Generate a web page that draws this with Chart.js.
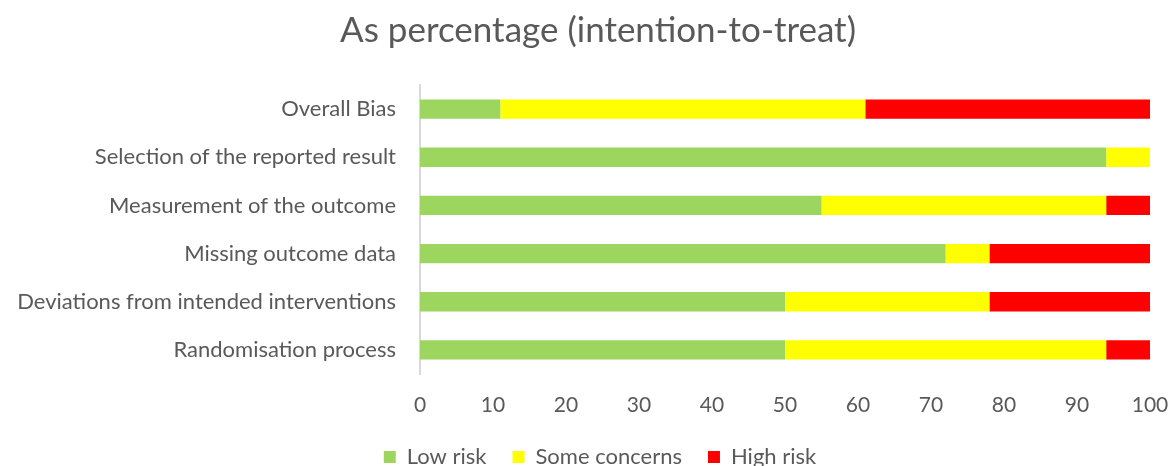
<!DOCTYPE html>
<html>
<head>
<meta charset="utf-8">
<script src="https://cdn.jsdelivr.net/npm/chart.js@4/dist/chart.umd.min.js"></script>
<style>
  html, body { margin: 0; padding: 0; background: #ffffff; overflow: hidden; width: 1170px; height: 466px; }
  #wrap { width: 1170px; height: 466px; overflow: hidden; }
</style>
</head>
<body>
<div id="wrap"><canvas id="c" width="1170" height="478"></canvas></div>
<script>
const categories = [
  "Overall Bias",
  "Selection of the reported result",
  "Measurement of the outcome",
  "Missing outcome data",
  "Deviations from intended interventions",
  "Randomisation process"
];
const lowRisk       = [11, 94, 55, 72, 50, 50];
const someConcerns  = [50,  6, 39,  6, 28, 44];
const highRisk      = [39,  0,  6, 22, 22,  6];
const xTicks = [0, 10, 20, 30, 40, 50, 60, 70, 80, 90, 100];

const FONT = "Lato, 'Open Sans', sans-serif";
const TXT = "#595959";

// shift the library-drawn legend and title so they are centred like the reference
const blockShift = {
  id: "blockShift",
  afterLayout(chart) {
    if (chart.legend) { chart.legend.left += 25; chart.legend.right += 25; }
    if (chart.titleBlock) { chart.titleBlock.left += 23; chart.titleBlock.right += 23; }
  }
};

new Chart(document.getElementById("c"), {
  type: "bar",
  data: {
    labels: categories,
    datasets: [
      { label: "Low risk", data: lowRisk, backgroundColor: "#9dd65f" },
      { label: "Some concerns", data: someConcerns, backgroundColor: "#ffff00" },
      { label: "High risk", data: highRisk, backgroundColor: "#ff0000" }
    ]
  },
  plugins: [blockShift],
  options: {
    indexAxis: "y",
    responsive: false,
    animation: false,
    layout: { padding: { left: 0, right: 20, top: 0, bottom: 0 } },
    datasets: { bar: { barPercentage: 0.4, categoryPercentage: 1.0 } },
    plugins: {
      title: {
        display: true,
        text: "As percentage (intention-to-treat)",
        color: TXT,
        font: { family: FONT, size: 35, weight: "normal" },
        padding: { top: 10, bottom: 33 }
      },
      legend: {
        position: "bottom",
        labels: {
          color: TXT,
          font: { family: FONT, size: 22 },
          boxWidth: 12,
          boxHeight: 12,
          padding: 26
        }
      },
      tooltip: { enabled: false }
    },
    scales: {
      x: {
        stacked: true,
        min: 0,
        max: 100,
        afterBuildTicks: (s) => { s.ticks = xTicks.map(v => ({ value: v })); },
        afterFit: (s) => { s.height = 46; s.paddingLeft = 0; s.paddingRight = 0; },
        grid: { display: false },
        border: { display: false },
        ticks: { color: TXT, font: { family: FONT, size: 21 }, padding: 11, maxRotation: 0 }
      },
      y: {
        stacked: true,
        afterFit: (s) => { s.width = 420; },
        grid: { display: false, drawTicks: false },
        border: { display: true, color: "#d9d9d9", width: 2 },
        ticks: { color: TXT, font: { family: FONT, size: 22 }, padding: 24 }
      }
    }
  }
});
</script>
</body>
</html>
